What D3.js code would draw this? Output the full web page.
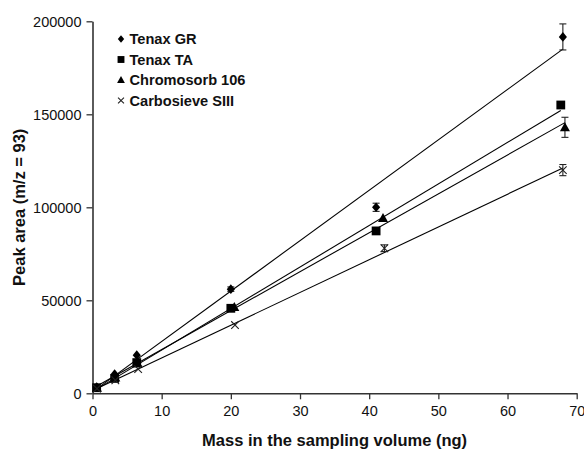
<!DOCTYPE html>
<html>
<head>
<meta charset="utf-8">
<script src="https://cdn.jsdelivr.net/npm/d3@7"></script>
<style>
  html, body { margin: 0; padding: 0; background: #fff; }
  svg { display: block; font-family: "Liberation Sans", Arial, sans-serif; }
</style>
</head>
<body>
<svg id="chart" width="584" height="449"></svg>
<script>
// Peak area vs. injected mass for four adsorbents
const seriesNames = ["Tenax GR", "Tenax TA", "Chromosorb 106", "Carbosieve SIII"];
const seriesSymbols = ["diamond", "square", "triangle", "cross"];

const tenaxGRMass = [0.6, 3.2, 6.4, 20.0, 41.0, 68.0];
const tenaxGRArea = [3400, 10300, 20500, 56000, 100000, 191600];
const tenaxGRErr  = [0, 0, 0, 1200, 2200, 7000];

const tenaxTAMass = [0.6, 3.2, 6.4, 20.0, 41.0, 67.7];
const tenaxTAArea = [3000, 8000, 16500, 45700, 87300, 155000];
const tenaxTAErr  = [0, 0, 0, 0, 0, 0];

const chromMass = [0.65, 3.3, 6.5, 20.5, 42.0, 68.3];
const chromArea = [3000, 8500, 16000, 46400, 94300, 143000];
const chromErr  = [0, 0, 0, 0, 0, 5400];

const carboMass = [0.65, 3.3, 6.6, 20.6, 42.2, 68.0];
const carboArea = [2500, 7000, 13000, 36700, 78000, 120000];
const carboErr  = [0, 0, 0, 0, 1800, 3000];

const xTicks = [0, 10, 20, 30, 40, 50, 60, 70];
const yTicks = [0, 50000, 100000, 150000, 200000];

const seriesData = [
  [tenaxGRMass, tenaxGRArea, tenaxGRErr],
  [tenaxTAMass, tenaxTAArea, tenaxTAErr],
  [chromMass, chromArea, chromErr],
  [carboMass, carboArea, carboErr]
].map(([xs, ys, es], i) => ({
  name: seriesNames[i],
  symbol: seriesSymbols[i],
  points: xs.map((x, j) => ({ x, y: ys[j], e: es[j] }))
}));

const svg = d3.select("#chart");
const margin = { left: 92.5, right: 7.3, top: 21.3, bottom: 55.7 };
const W = 584, H = 449;

const x = d3.scaleLinear().domain([0, 70]).range([margin.left, W - margin.right]);
const y = d3.scaleLinear().domain([0, 200000]).range([H - margin.bottom, margin.top]);

// Axes
const axisColor = "#333";
const xAxis = svg.append("g")
  .attr("transform", `translate(0,${y(0)})`)
  .call(d3.axisBottom(x).tickValues(xTicks).tickSize(6).tickPadding(6).tickSizeOuter(0));
const yAxis = svg.append("g")
  .attr("transform", `translate(${x(0)},0)`)
  .call(d3.axisLeft(y).tickValues(yTicks).tickSize(6).tickPadding(5).tickSizeOuter(0)
    .tickFormat(d3.format("d")));

[xAxis, yAxis].forEach(g => {
  g.select(".domain").attr("stroke", axisColor).attr("stroke-width", 1.6);
  g.selectAll(".tick line").attr("stroke", axisColor).attr("stroke-width", 1.3);
  g.selectAll(".tick text")
    .attr("fill", "#111")
    .style("font-size", "14.5px")
    .style("font-family", "'Liberation Sans', Arial, sans-serif");
});
yAxis.selectAll(".tick text").attr("dy", "0.36em");

// Axis titles
svg.append("text")
  .attr("x", (x(0) + x(70)) / 2)
  .attr("y", 445.5)
  .attr("text-anchor", "middle")
  .style("font-size", "16.5px")
  .style("font-weight", "bold")
  .attr("fill", "#111")
  .text("Mass in the sampling volume (ng)");

svg.append("text")
  .attr("transform", `translate(24.5,${(y(0) + y(200000)) / 2}) rotate(-90)`)
  .attr("text-anchor", "middle")
  .style("font-size", "16.5px")
  .style("font-weight", "bold")
  .attr("fill", "#111")
  .text("Peak area (m/z = 93)");

// Least-squares trend line per series, over its measured mass range
function fit(points) {
  const mx = d3.mean(points, p => p.x), my = d3.mean(points, p => p.y);
  let sxx = 0, sxy = 0;
  points.forEach(p => { sxx += (p.x - mx) ** 2; sxy += (p.x - mx) * (p.y - my); });
  const b = sxy / sxx, a = my - b * mx;
  const x0 = d3.min(points, p => p.x), x1 = d3.max(points, p => p.x);
  return [{ x: x0, y: a + b * x0 }, { x: x1, y: a + b * x1 }];
}

const line = d3.line().x(d => x(d.x)).y(d => y(d.y));
const plot = svg.append("g");

seriesData.forEach(s => {
  plot.append("path")
    .attr("d", line(fit(s.points)))
    .attr("fill", "none")
    .attr("stroke", "#000")
    .attr("stroke-width", 1.1);
});

// Error bars
seriesData.forEach(s => {
  s.points.filter(p => p.e > 0).forEach(p => {
    const g = plot.append("g").attr("stroke", "#222").attr("stroke-width", 1.1);
    g.append("line").attr("x1", x(p.x)).attr("x2", x(p.x)).attr("y1", y(p.y - p.e)).attr("y2", y(p.y + p.e));
    [p.y - p.e, p.y + p.e].forEach(v => {
      g.append("line").attr("x1", x(p.x) - 3.5).attr("x2", x(p.x) + 3.5).attr("y1", y(v)).attr("y2", y(v));
    });
  });
});

// Markers
function drawSymbol(g, kind, cx, cy, scale) {
  const k = scale || 1;
  if (kind === "diamond") {
    const r = 4.8 * k;
    g.append("path").attr("d", `M${cx},${cy - r}L${cx + r * 0.85},${cy}L${cx},${cy + r}L${cx - r * 0.85},${cy}Z`).attr("fill", "#000");
  } else if (kind === "square") {
    const r = 4.4 * k;
    g.append("rect").attr("x", cx - r).attr("y", cy - r).attr("width", 2 * r).attr("height", 2 * r).attr("fill", "#000");
  } else if (kind === "triangle") {
    const r = 5 * k;
    g.append("path").attr("d", `M${cx},${cy - r}L${cx + r},${cy + r * 0.8}L${cx - r},${cy + r * 0.8}Z`).attr("fill", "#000");
  } else {
    const r = 3.8 * k;
    g.append("path").attr("d", `M${cx - r},${cy - r}L${cx + r},${cy + r}M${cx - r},${cy + r}L${cx + r},${cy - r}`)
      .attr("stroke", "#222").attr("stroke-width", 1.1).attr("fill", "none");
  }
}

seriesData.forEach(s => {
  s.points.forEach(p => drawSymbol(plot, s.symbol, x(p.x), y(p.y), 1));
});

// Legend
const legend = svg.append("g");
seriesData.forEach((s, i) => {
  const ly = 39 + i * 20.5;
  drawSymbol(legend, s.symbol, 121, ly, 0.78);
  legend.append("text")
    .attr("x", 129.5)
    .attr("y", ly)
    .attr("dy", "0.36em")
    .style("font-size", "14.6px")
    .style("font-weight", "bold")
    .attr("fill", "#111")
    .text(s.name);
});
</script>
</body>
</html>
